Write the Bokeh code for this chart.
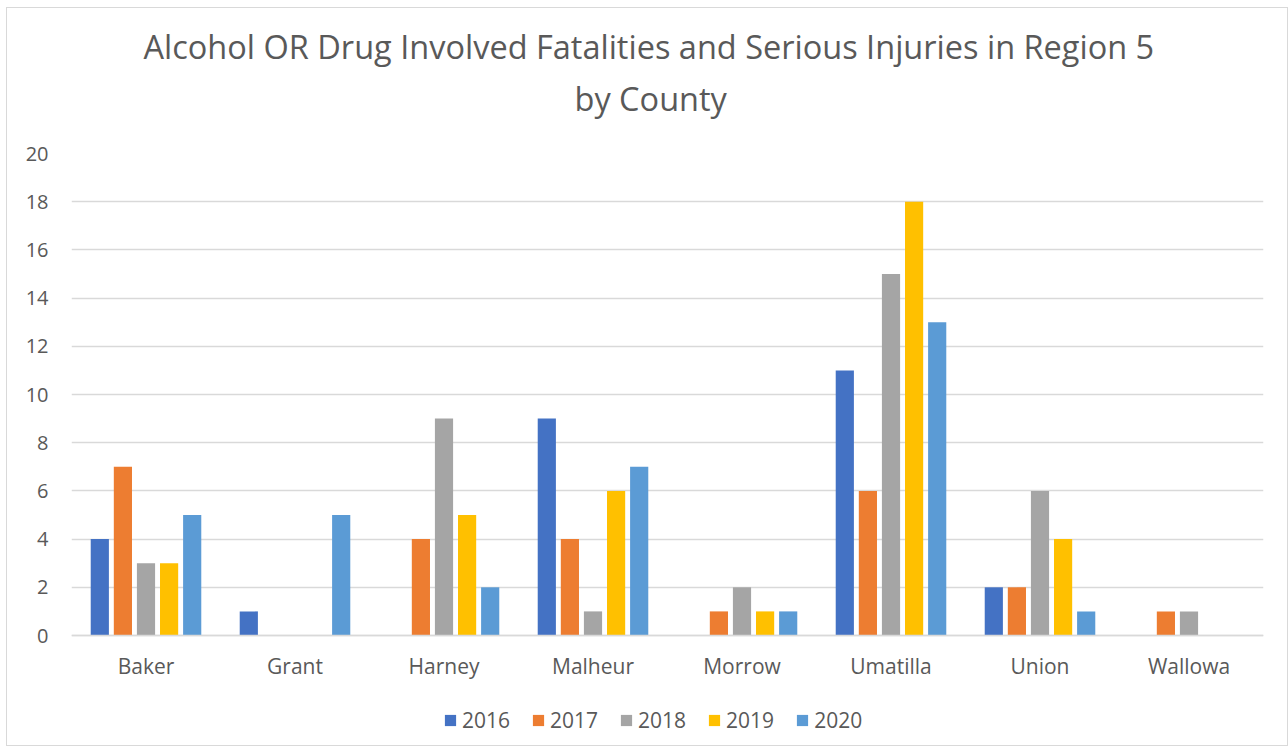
from bokeh.plotting import figure
from bokeh.models import ColumnDataSource, Title, Legend, LegendItem, FixedTicker, Range1d
from bokeh.transform import dodge
from bokeh.embed import file_html
from bokeh.resources import INLINE

counties = ["Baker", "Grant", "Harney", "Malheur", "Morrow", "Umatilla", "Union", "Wallowa"]
years = ["2016", "2017", "2018", "2019", "2020"]
v2016 = [4, 1, 0, 9, 0, 11, 2, 0]
v2017 = [7, 0, 4, 4, 1, 6, 2, 1]
v2018 = [3, 0, 9, 1, 2, 15, 6, 1]
v2019 = [3, 0, 5, 6, 1, 18, 4, 0]
v2020 = [5, 5, 2, 7, 1, 13, 1, 0]
y_ticks = [0, 2, 4, 6, 8, 10, 12, 14, 16, 18, 20]

colors = ["#4472C4", "#ED7D31", "#A5A5A5", "#FFC000", "#5B9BD5"]
series = [v2016, v2017, v2018, v2019, v2020]

src = ColumnDataSource(dict(county=counties, **{y: s for y, s in zip(years, series)}))

FONT = "Open Sans"
GREY = "#595959"

# plot area: 482 px for 0..20, extended 110 px below zero for axis labels + legend
px_per_unit = 482 / 20
y_lo = -110 / px_per_unit

p = figure(x_range=counties, y_range=Range1d(y_lo, 20), frame_width=1192, frame_height=592,
           output_backend="svg", toolbar_location=None,
           min_border_left=64, min_border_right=24, min_border_top=145,
           min_border_bottom=0)
p.styles = {"border": "1px solid #D9D9D9", "margin-left": "6px", "margin-top": "7px"}
p.outline_line_color = None
p.background_fill_color = "white"

offsets = [-0.31, -0.155, 0.0, 0.155, 0.31]
items = []
for yr, off, col in zip(years, offsets, colors):
    r = p.vbar(x=dodge("county", off, range=p.x_range), top=yr, bottom=0, width=0.122,
               source=src, fill_color=col, line_color=None)
    items.append(LegendItem(label=yr, renderers=[r]))

p.add_layout(Title(text="by County", align="left", text_font=FONT,
                   text_font_size="32.5px", text_font_style="normal",
                   text_color=GREY, standoff=65, offset=503), "above")
p.add_layout(Title(text="Alcohol OR Drug Involved Fatalities and Serious Injuries in Region 5",
                   align="left", text_font=FONT, text_font_size="32.5px",
                   text_font_style="normal", text_color=GREY, standoff=-55,
                   offset=72), "above")

p.yaxis.ticker = FixedTicker(ticks=y_ticks)
p.yaxis.axis_line_color = None
p.yaxis.major_tick_line_color = None
p.yaxis.minor_tick_line_color = None
p.yaxis.major_label_text_font = FONT
p.yaxis.major_label_text_font_size = "20px"
p.yaxis.major_label_text_color = GREY
p.yaxis.major_label_standoff = 17

p.xaxis.fixed_location = 0
p.xaxis.axis_line_color = "#D9D9D9"
p.xaxis.axis_line_width = 1.5
p.xaxis.major_tick_line_color = None
p.xaxis.minor_tick_line_color = None
p.xaxis.major_label_text_font = FONT
p.xaxis.major_label_text_font_size = "21px"
p.xaxis.major_label_text_color = GREY
p.xaxis.major_label_standoff = 10

p.xgrid.grid_line_color = None
p.ygrid.grid_line_color = "#D9D9D9"
p.ygrid.grid_line_width = 1.3

legend = Legend(items=items, orientation="horizontal", location=(372, 11),
                label_text_font=FONT, label_text_font_size="21px",
                label_text_color=GREY, glyph_width=14, glyph_height=14,
                label_standoff=5, spacing=21, border_line_color=None,
                background_fill_alpha=0, padding=4, margin=0)
p.add_layout(legend)

open("out.html", "w").write(file_html(p, INLINE))
